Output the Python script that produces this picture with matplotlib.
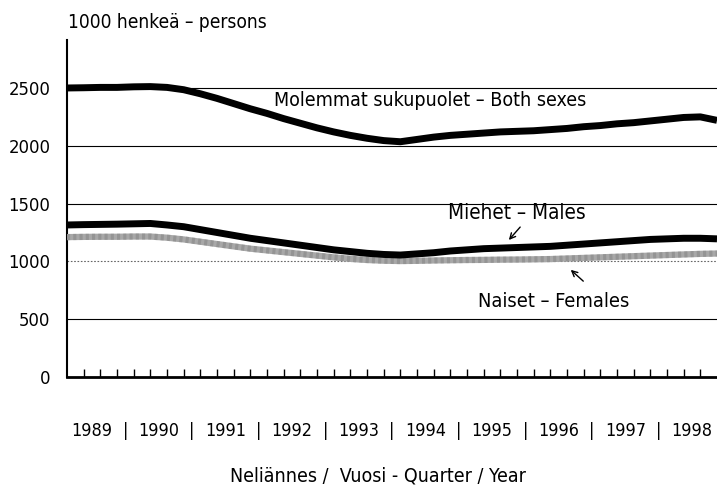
import matplotlib
matplotlib.use("Agg")
import matplotlib.pyplot as plt
from matplotlib.transforms import blended_transform_factory

plt.rcParams['font.family'] = ['DejaVu Sans']
plt.rcParams['font.stretch'] = 'condensed'

years = [1989, 1990, 1991, 1992, 1993, 1994, 1995, 1996, 1997, 1998]
quarters = list(range(40))

both_sexes = [2500, 2502, 2505, 2505, 2510, 2512, 2505, 2485, 2450, 2410,
              2365, 2320, 2280, 2235, 2195, 2155, 2120, 2090, 2065, 2045,
              2035, 2055, 2075, 2090, 2100, 2110, 2120, 2125, 2130, 2140,
              2150, 2165, 2175, 2190, 2200, 2215, 2230, 2245, 2250, 2220]
males = [1315, 1318, 1320, 1322, 1325, 1328, 1315, 1300, 1275, 1250,
         1225, 1200, 1180, 1160, 1140, 1120, 1100, 1085, 1070, 1060,
         1055, 1065, 1075, 1090, 1100, 1110, 1115, 1120, 1125, 1130,
         1140, 1150, 1160, 1170, 1180, 1190, 1195, 1200, 1200, 1195]
females = [1210, 1212, 1213, 1213, 1215, 1215, 1205, 1190, 1170, 1150,
           1130, 1110, 1095, 1080, 1065, 1050, 1035, 1022, 1012, 1006,
           1003, 1005, 1008, 1010, 1012, 1013, 1015, 1016, 1018, 1020,
           1025, 1030, 1035, 1040, 1045, 1050, 1055, 1060, 1065, 1068]
yticks = [0, 500, 1000, 1500, 2000, 2500]

fig = plt.figure(figsize=(7.17, 4.88), dpi=100)
ax = fig.add_axes([67/717, 1-377/488, 1-67/717, (377-40)/488])
ax.set_xlim(0, 39)
ax.set_ylim(0, 2915)

for v in yticks[1:]:
    if v == 1000:
        ax.axhline(v, color='#666666', lw=0.8, ls=(0, (1.5, 1.5)), zorder=1)
    else:
        ax.axhline(v, color='black', lw=0.8, zorder=1)

ax.plot(quarters, females, color='#a8a8a8', lw=4.5, solid_capstyle='butt', zorder=3)
ax.plot(quarters, females, color='#707070', lw=4.5, ls=(0, (0.5, 0.5)), alpha=0.35, zorder=3)
ax.plot(quarters, males, color='black', lw=5.0, solid_capstyle='butt', zorder=4)
ax.plot(quarters, both_sexes, color='black', lw=5.0, solid_capstyle='butt', zorder=4)

for s in ['top', 'right']:
    ax.spines[s].set_visible(False)
ax.spines['left'].set_linewidth(1.5)
ax.spines['bottom'].set_linewidth(2.0)

ax.set_yticks(yticks)
ax.set_yticklabels([str(v) for v in yticks], fontsize=13.2)
ax.tick_params(axis='y', length=0, pad=12)
ax.set_xticks(range(1, 39))
ax.set_xticklabels([])
ax.tick_params(axis='x', direction='in', length=6, width=1.0, color='black')

tr = blended_transform_factory(ax.transData, fig.transFigure)
for k, yr in enumerate(years):
    ax.text(4*k + 1.5, 1 - 431/488, str(yr), transform=tr, ha='center', va='center', fontsize=12.9)
    if k < len(years) - 1:
        ax.text(4*k + 3.5, 1 - 431/488, '|', transform=tr, ha='center', va='center', fontsize=12.9)

fig.text(68/717, 1 - 23/488, '1000 henkeä – persons', ha='left', va='center', fontsize=13.7)
fig.text(378/717, 1 - 476/488, 'Neliännes /  Vuosi - Quarter / Year', ha='center', va='center', fontsize=14)

ax.text(21.8, 2396, 'Molemmat sukupuolet – Both sexes', ha='center', va='center', fontsize=14)
ax.text(27.0, 1419, 'Miehet – Males', ha='center', va='center', fontsize=14.9)
ax.text(29.2, 649, 'Naiset – Females', ha='center', va='center', fontsize=14.3)
ax.annotate('', xy=(26.4, 1167), xytext=(27.3, 1315),
            arrowprops=dict(arrowstyle='->', color='black', lw=1.0))
ax.annotate('', xy=(30.1, 943), xytext=(31.1, 813),
            arrowprops=dict(arrowstyle='->', color='black', lw=1.0))

fig.savefig('out.png', dpi=100)
